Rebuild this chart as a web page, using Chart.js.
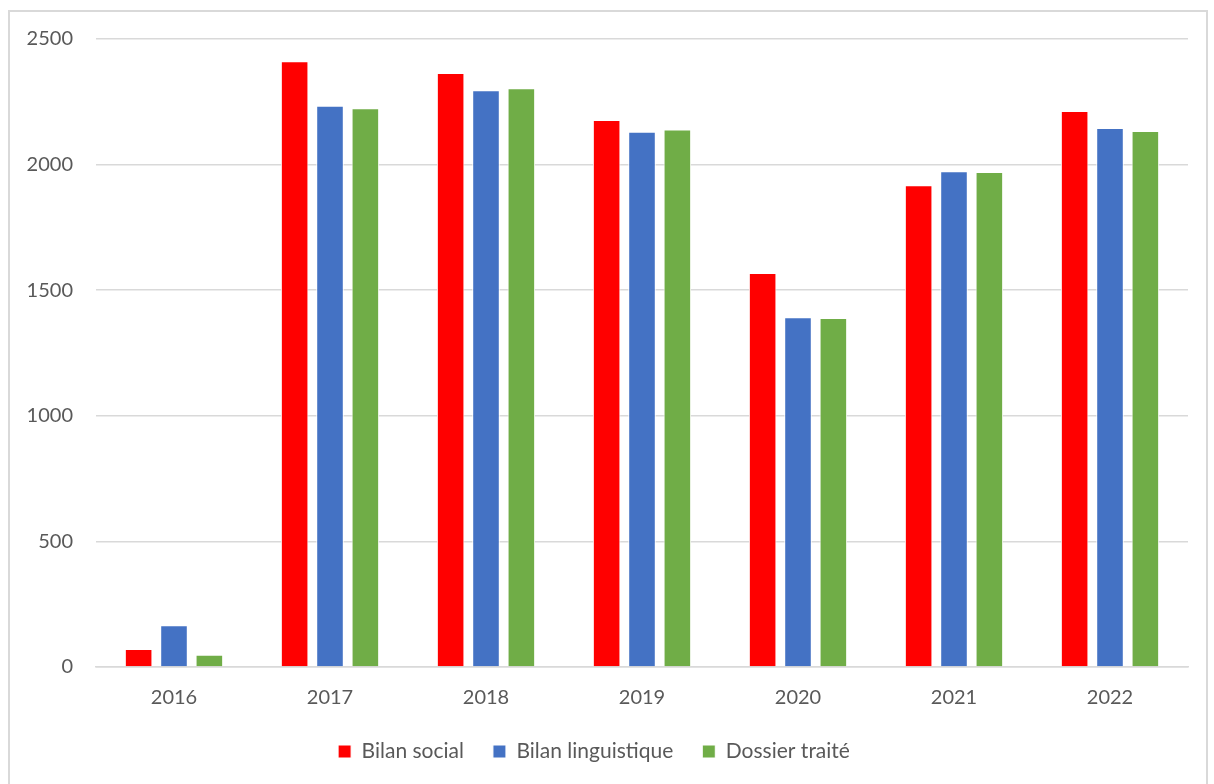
<!DOCTYPE html>
<html>
<head>
<meta charset="utf-8">
<script src="https://cdn.jsdelivr.net/npm/chart.js@4.4.0/dist/chart.umd.min.js"></script>
<style>
  html, body { margin: 0; padding: 0; background: #fff; }
  #moldura {
    position: absolute; left: 8px; top: 10px; width: 1200px; height: 780px;
    border: 2px solid #d9d9d9; box-sizing: border-box;
  }
  #caixa { position: absolute; left: 0; top: 0; width: 1214px; height: 784px; }
</style>
</head>
<body>
<div id="moldura"></div>
<div id="caixa"><canvas id="grafico" width="1214" height="784"></canvas></div>
<script>
// Anos e valores de cada série
const anos = ['2016', '2017', '2018', '2019', '2020', '2021', '2022'];
const bilanSocial = [72, 2411, 2365, 2178, 1568, 1918, 2213];
const bilanLinguistique = [166, 2234, 2296, 2131, 1392, 1974, 2146];
const dossierTraite = [49, 2224, 2304, 2140, 1389, 1971, 2134];

const corTexto = '#595959';
const fonte = 'Lato, "Open Sans", sans-serif';

const ctx = document.getElementById('grafico').getContext('2d');

function serie(nome, valores, cor) {
    return {
        label: nome,
        data: valores,
        backgroundColor: cor,
        borderColor: '#ffffff',
        borderWidth: 1,
        categoryPercentage: 0.68,
        barPercentage: 0.78
    };
}

const config = {
    type: 'bar',
    data: {
        labels: anos,
        datasets: [
            serie('Bilan social', bilanSocial, '#ff0000'),
            serie('Bilan linguistique', bilanLinguistique, '#4472c4'),
            serie('Dossier traité', dossierTraite, '#70ad47')
        ]
    },
    options: {
        responsive: false,
        animation: false,
        layout: {
            padding: { top: 39, right: 26, bottom: 12, left: 0 }
        },
        scales: {
            y: {
                min: 0,
                max: 2500,
                ticks: {
                    stepSize: 500,
                    color: corTexto,
                    padding: 23,
                    font: { family: fonte, size: 20 },
                    callback: (valor) => String(valor) // sem separador de milhar
                },
                grid: { color: '#d9d9d9', lineWidth: 1.5, drawTicks: false },
                border: { display: false },
                afterFit: (escala) => { escala.width = 96; }
            },
            x: {
                ticks: {
                    color: corTexto,
                    padding: 19,
                    font: { family: fonte, size: 20 }
                },
                grid: { display: false, drawTicks: false },
                border: { color: '#d9d9d9', width: 1.5 },
                // altura fixa para aproximar a legenda dos anos
                afterFit: (escala) => { escala.height = 45; }
            }
        },
        plugins: {
            legend: {
                position: 'bottom',
                labels: {
                    color: corTexto,
                    boxWidth: 13,
                    boxHeight: 13,
                    padding: 29,
                    font: { family: fonte, size: 21 }
                }
            },
            tooltip: { enabled: false }
        }
    }
};

const chart = new Chart(ctx, config);
</script>
</body>
</html>
